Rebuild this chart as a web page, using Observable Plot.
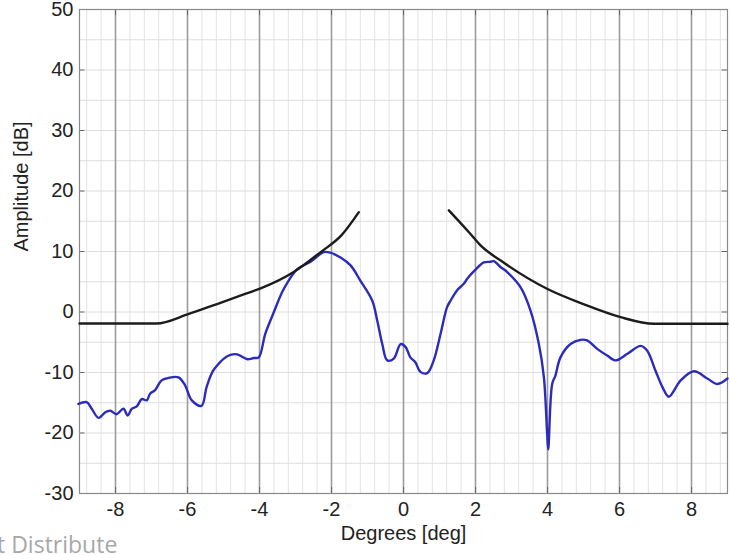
<!DOCTYPE html>
<html>
<head>
<meta charset="utf-8">
<script src="https://cdn.jsdelivr.net/npm/d3@7"></script>
<script src="https://cdn.jsdelivr.net/npm/@observablehq/plot@0.6"></script>
<style>
  html, body { margin: 0; padding: 0; background: #fff; overflow: hidden; }
  #wrap { position: relative; width: 730px; height: 555px; }
  #wm { position: absolute; left: -3px; top: 528px; font-family: "Open Sans", sans-serif; font-size: 23px; color: #a8a8a8; white-space: nowrap; }
</style>
</head>
<body>
<div id="wrap">
  <div id="chart"></div>
  <div id="wm">t Distribute</div>
</div>
<script>
// Tick labels
const xTicks = [-8, -6, -4, -2, 0, 2, 4, 6, 8];
const yTicks = [-30, -20, -10, 0, 10, 20, 30, 40, 50];
const minorX = d3.range(-22, 23).map(i => i * 0.4);
const gridY = [-25, -20, -15, -10, -5, 0, 5, 10, 15, 20, 25, 30, 35, 40, 45];

// Black mask curve (left and right branches)
const maskLeftX = [-9, -6.86, -6, -5.14, -4.25, -3.97, -3.05, -2.3, -1.72, -1.24];
const maskLeftY = [-1.9, -1.9, -0.4, 1.4, 3.3, 3.9, 6.6, 9.9, 12.7, 16.5];
const maskRightX = [1.26, 1.86, 2.14, 2.7, 4.0, 5.0, 6.03, 6.96, 9];
const maskRightY = [16.8, 12.9, 11.0, 8.5, 3.8, 1.3, -0.85, -1.95, -1.95];

// Blue measured curve
const measX = [-9.03, -8.8, -8.66, -8.47, -8.29, -8.15, -7.97, -7.78, -7.66, -7.55, -7.41, -7.27, -7.13, -7.04, -6.9, -6.72, -6.53, -6.25, -6.07, -5.88, -5.61, -5.47, -5.3, -5.14, -4.99, -4.81, -4.62, -4.34, -4.16, -4.02, -3.84, -3.6, -3.37, -3.19, -2.95, -2.58, -2.22, -2.03, -1.75, -1.47, -1.2, -0.87, -0.73, -0.59, -0.45, -0.27, -0.08, 0.06, 0.19, 0.33, 0.47, 0.66, 0.84, 1.03, 1.21, 1.31, 1.49, 1.68, 1.77, 2.0, 2.23, 2.42, 2.51, 2.7, 2.88, 3.25, 3.53, 3.76, 3.9, 3.99, 4.02, 4.13, 4.22, 4.36, 4.64, 4.92, 5.1, 5.38, 5.66, 5.89, 6.22, 6.59, 6.77, 7.0, 7.2, 7.37, 7.7, 8.07, 8.44, 8.72, 9.0];
const measY = [-15.2, -14.9, -16.0, -17.5, -16.6, -16.3, -16.9, -16.0, -17.1, -16.0, -15.6, -14.4, -14.6, -13.5, -12.9, -11.3, -10.9, -10.8, -12.1, -14.6, -15.5, -12.4, -9.8, -8.6, -7.7, -7.1, -7.0, -7.8, -7.6, -7.5, -3.6, 0.0, 3.3, 5.2, 7.1, 8.3, 9.9, 9.8, 9.0, 7.7, 5.2, 1.9, -1.4, -5.3, -8.0, -7.7, -5.3, -5.8, -7.5, -8.3, -9.9, -10.1, -8.0, -3.6, 0.8, 1.9, 3.6, 4.7, 5.5, 7.0, 8.2, 8.3, 8.4, 7.4, 6.6, 4.1, 0.2, -5.3, -10.8, -20.1, -22.7, -11.9, -10.5, -7.5, -5.3, -4.6, -4.7, -6.1, -7.2, -8.0, -6.9, -5.6, -6.4, -9.7, -12.5, -14.0, -11.3, -9.8, -11.0, -11.9, -11.0];

const maskL = maskLeftX.map((x, i) => ({x, y: maskLeftY[i]}));
const maskR = maskRightX.map((x, i) => ({x, y: maskRightY[i]}));
const meas = measX.map((x, i) => ({x, y: measY[i]}));

const font = "'Liberation Sans', Arial, sans-serif";

const chart = Plot.plot({
  width: 730,
  height: 555,
  marginLeft: 79,
  marginRight: 3,
  marginTop: 9,
  marginBottom: 62,
  style: { fontFamily: font, fontSize: "20px", color: "#222", background: "#fff" },
  x: { domain: [-9, 9], label: null },
  y: { domain: [-30, 50], label: null },
  marks: [
    Plot.ruleX(minorX, { stroke: "#e3e3e3", strokeWidth: 1 }),
    Plot.ruleY(gridY, { stroke: "#dedede", strokeWidth: 1 }),
    Plot.ruleX(xTicks, { stroke: "#9c9c9c", strokeWidth: 1.6 }),
    Plot.ruleX(xTicks, { y1: -30, y2: -29, stroke: "#666" }),
    Plot.ruleX(xTicks, { y1: 50, y2: 49, stroke: "#666" }),
    Plot.ruleY(yTicks, { x1: -9, x2: -8.85, stroke: "#666" }),
    Plot.ruleY(yTicks, { x1: 9, x2: 8.85, stroke: "#666" }),
    Plot.frame({ stroke: "#8a8a8a", strokeWidth: 1.2 }),
    Plot.line(meas, { x: "x", y: "y", stroke: "#2c2cba", strokeWidth: 2.4, curve: "catmull-rom" }),
    Plot.line(maskL, { x: "x", y: "y", stroke: "#1c1c1c", strokeWidth: 2.4, curve: "monotone-x" }),
    Plot.line(maskR, { x: "x", y: "y", stroke: "#1c1c1c", strokeWidth: 2.4, curve: "monotone-x" }),
    Plot.axisX(xTicks, { tickSize: 0, tickPadding: 8, tickFormat: d => String(d), label: null, fontSize: 20 }),
    Plot.axisY(yTicks, { tickSize: 0, tickPadding: 6, tickFormat: d => String(d), label: null, fontSize: 20 }),
    Plot.text(["Degrees [deg]"], { frameAnchor: "bottom", dy: 46, fontSize: 20, fill: "#222" }),
    Plot.text(["Amplitude [dB]"], { frameAnchor: "left", dx: -58, rotate: -90, fontSize: 20, fill: "#222" })
  ]
});
document.getElementById("chart").appendChild(chart);
</script>
</body>
</html>
